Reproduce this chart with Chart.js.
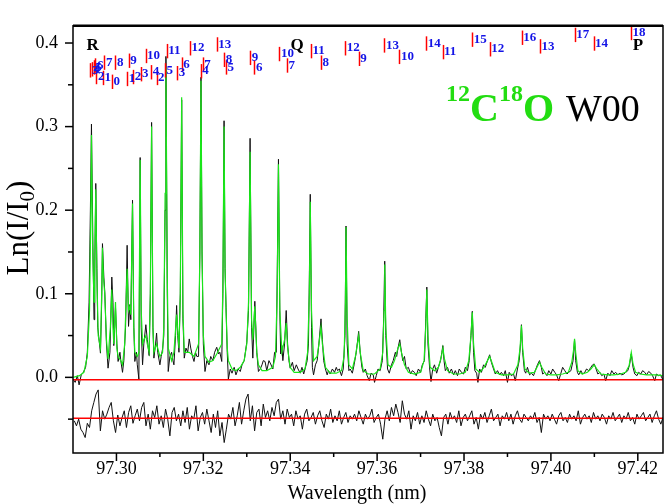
<!DOCTYPE html>
<html>
<head>
<meta charset="utf-8">
<script src="https://cdn.jsdelivr.net/npm/chart.js@4.4.1/dist/chart.umd.min.js"></script>
<style>
  html, body { margin: 0; padding: 0; background: #fff; }
</style>
</head>
<body>
<canvas id="chart" width="665" height="504"></canvas>
<script>
// axis ranges and ticks
const xMin = 97.29, xMax = 97.4258;
const yMin = -0.0905, yMax = 0.4206;
const xTicks = [97.30, 97.32, 97.34, 97.36, 97.38, 97.40, 97.42];
const yTicks = [0.0, 0.1, 0.2, 0.3, 0.4];

// reference levels (zero line and offset residual)
const zeroLevel = -0.003;
const residualLevel = -0.049;

// measured spectrum [wavelength nm, Ln(I/I0)]
const observed = [
  [97.2900, -0.002], [97.2905, -0.006], [97.2910, 0.002], [97.2914, -0.009], [97.2919, 0.003], [97.2924, 0.006],
  [97.2929, 0.012], [97.2933, 0.030], [97.2937, 0.09], [97.2940, 0.20], [97.29425, 0.303], [97.2946, 0.15],
  [97.29484, 0.069], [97.2950, 0.12], [97.29524, 0.232], [97.2955, 0.13], [97.2957, 0.06], [97.29632, 0.029],
  [97.2966, 0.09], [97.29678, 0.160], [97.2971, 0.12], [97.29731, 0.103], [97.2977, 0.04], [97.29807, 0.011],
  [97.2985, 0.03], [97.2987, 0.07], [97.29893, 0.12], [97.2992, 0.09], [97.29939, 0.038], [97.29978, 0.084],
  [97.3001, 0.04], [97.30038, 0.019], [97.3008, 0.03], [97.3010, 0.02], [97.30140, 0.006], [97.3017, 0.02],
  [97.3021, 0.06], [97.30246, 0.158], [97.30278, 0.061], [97.30308, 0.087], [97.30331, 0.069], [97.30370, 0.212],
  [97.3040, 0.06], [97.30423, 0.019], [97.3046, 0.03], [97.3048, 0.015], [97.30516, -0.002], [97.30546, 0.263],
  [97.3057, 0.06], [97.30601, 0.015], [97.3063, 0.04], [97.30677, 0.063], [97.3071, 0.045], [97.30753, 0.026],
  [97.3078, 0.10], [97.30809, 0.305], [97.3084, 0.06], [97.30862, 0.023], [97.3090, 0.04], [97.30924, 0.053],
  [97.3095, 0.03], [97.31000, 0.015], [97.3103, 0.025], [97.31062, 0.034], [97.3109, 0.05], [97.3112, 0.20],
  [97.31139, 0.384], [97.3117, 0.10], [97.31192, 0.007], [97.3123, 0.025], [97.3127, 0.03], [97.3130, 0.02],
  [97.31323, 0.015], [97.3136, 0.05], [97.31385, 0.086], [97.3141, 0.05], [97.31439, 0.030], [97.3147, 0.10],
  [97.31501, 0.332], [97.3153, 0.07], [97.31561, 0.023], [97.3160, 0.035], [97.3164, 0.03], [97.31676, 0.046],
  [97.3171, 0.035], [97.3175, 0.025], [97.31785, 0.019], [97.3182, 0.03], [97.3185, 0.025], [97.3189, 0.025],
  [97.3192, 0.15], [97.31946, 0.359], [97.3197, 0.15], [97.3200, 0.04], [97.32038, 0.007], [97.3208, 0.02],
  [97.3213, 0.015], [97.3217, 0.025], [97.3222, 0.02], [97.3226, 0.03], [97.32308, 0.036], [97.3235, 0.028],
  [97.3238, 0.03], [97.32424, 0.019], [97.3245, 0.10], [97.32477, 0.307], [97.3250, 0.13], [97.32523, 0.084],
  [97.3255, 0.03], [97.32576, -0.002], [97.3262, 0.010], [97.3266, 0.005], [97.3271, 0.012], [97.3275, 0.003],
  [97.3280, 0.010], [97.3285, 0.007], [97.3289, 0.015], [97.3294, 0.020], [97.33000, 0.042], [97.3304, 0.08],
  [97.33076, 0.286], [97.3311, 0.06], [97.33139, 0.023], [97.33185, 0.091], [97.3323, 0.03], [97.33268, 0.007],
  [97.3331, 0.010], [97.3335, 0.015], [97.3338, 0.020], [97.3342, 0.019], [97.3346, 0.008], [97.3351, 0.020],
  [97.3355, 0.016], [97.3360, 0.010], [97.3364, 0.030], [97.3368, 0.030], [97.3370, 0.12], [97.33729, 0.261],
  [97.3376, 0.08], [97.3378, 0.028], [97.33808, 0.038], [97.3383, 0.02], [97.3387, 0.04], [97.33907, 0.080],
  [97.3394, 0.04], [97.3397, 0.02], [97.33999, 0.011], [97.3405, 0.018], [97.3409, 0.008], [97.3414, 0.015],
  [97.3418, 0.010], [97.3423, 0.005], [97.3427, 0.012], [97.3431, 0.004], [97.3434, 0.010], [97.3439, 0.020],
  [97.3442, 0.040], [97.3444, 0.12], [97.34461, 0.219], [97.3449, 0.06], [97.3451, 0.012], [97.34537, 0.003],
  [97.3458, 0.015], [97.3462, 0.020], [97.3466, 0.040], [97.34708, 0.070], [97.3474, 0.045], [97.3477, 0.020],
  [97.3481, 0.010], [97.3485, 0.003], [97.3488, 0.008], [97.3492, 0.004], [97.3497, 0.010], [97.3502, 0.006],
  [97.3506, 0.012], [97.3509, 0.008], [97.3513, 0.010], [97.3518, 0.002], [97.3522, 0.010], [97.3526, 0.05],
  [97.35284, 0.181], [97.3531, 0.04], [97.3535, 0.008], [97.3538, 0.010], [97.3543, 0.005], [97.3547, 0.015],
  [97.3552, 0.030], [97.35575, 0.055], [97.3561, 0.030], [97.3565, 0.012], [97.3568, 0.006], [97.3573, 0.010],
  [97.3577, 0.002], [97.3582, -0.004], [97.3586, 0.005], [97.3591, 0.003], [97.3594, -0.006], [97.3598, 0.002],
  [97.3602, 0.010], [97.3607, 0.008], [97.3612, 0.020], [97.3615, 0.07], [97.36175, 0.139], [97.3620, 0.05],
  [97.3624, 0.010], [97.3628, 0.005], [97.3633, 0.015], [97.3637, 0.020], [97.3642, 0.030], [97.3645, 0.025],
  [97.3648, 0.035], [97.36521, 0.045], [97.3656, 0.030], [97.3659, 0.020], [97.3663, 0.025], [97.3667, 0.010],
  [97.3672, 0.012], [97.3677, 0.004], [97.3681, 0.008], [97.3686, 0.006], [97.3690, 0.002], [97.3695, 0.010],
  [97.3700, 0.006], [97.3704, 0.015], [97.3709, 0.020], [97.3712, 0.07], [97.37144, 0.108], [97.3717, 0.04],
  [97.3721, 0.010], [97.3724, -0.005], [97.3728, 0.010], [97.3732, 0.015], [97.3737, 0.005], [97.3741, 0.012],
  [97.3746, 0.020], [97.3749, 0.030], [97.37513, 0.038], [97.3754, 0.020], [97.3757, 0.008], [97.3762, 0.012],
  [97.3766, 0.005], [97.3771, 0.010], [97.3776, 0.003], [97.3780, 0.008], [97.3785, 0.002], [97.3789, 0.010],
  [97.3794, 0.006], [97.3799, 0.004], [97.3803, 0.012], [97.3808, 0.008], [97.3812, 0.020], [97.3816, 0.050],
  [97.38191, 0.079], [97.3822, 0.030], [97.3825, 0.008], [97.3829, 0.005], [97.3832, -0.006], [97.3836, 0.010],
  [97.3840, 0.006], [97.3845, 0.015], [97.3849, 0.012], [97.3854, 0.020], [97.38590, 0.027], [97.3863, 0.018],
  [97.3868, 0.010], [97.3872, 0.004], [97.3877, 0.008], [97.3882, 0.003], [97.3886, 0.006], [97.3891, 0.002],
  [97.3895, 0.008], [97.3900, -0.006], [97.3904, 0.006], [97.3909, 0.002], [97.3914, 0.004], [97.3918, -0.004],
  [97.3923, 0.010], [97.3927, 0.020], [97.3930, 0.040], [97.39322, 0.063], [97.3935, 0.030], [97.3939, 0.008],
  [97.3942, 0.005], [97.3946, 0.012], [97.3951, 0.003], [97.3955, 0.005], [97.3960, 0.002], [97.3964, 0.008],
  [97.3969, 0.015], [97.39737, 0.020], [97.3978, 0.012], [97.3981, 0.004], [97.3986, 0.006], [97.3991, 0.002],
  [97.3995, 0.008], [97.4000, 0.004], [97.4004, 0.010], [97.4009, 0.006], [97.4013, 0.003], [97.4018, -0.004],
  [97.4023, 0.005], [97.4027, 0.012], [97.4032, 0.008], [97.4037, 0.004], [97.4041, 0.006], [97.4046, 0.008],
  [97.4051, 0.020], [97.40544, 0.045], [97.4057, 0.020], [97.4061, 0.006], [97.4064, 0.003], [97.4069, 0.008],
  [97.4073, 0.004], [97.4078, 0.006], [97.4082, 0.010], [97.4087, 0.008], [97.4092, 0.012], [97.4096, 0.015],
  [97.40996, 0.016], [97.4104, 0.010], [97.4108, 0.004], [97.4113, 0.006], [97.4117, 0.002], [97.4122, 0.004],
  [97.4126, -0.004], [97.4131, 0.005], [97.4136, 0.002], [97.4140, 0.008], [97.4145, 0.004], [97.4149, 0.006],
  [97.4154, 0.003], [97.4159, 0.005], [97.4163, 0.003], [97.4168, 0.004], [97.4172, 0.006], [97.4177, 0.008],
  [97.4181, 0.015], [97.41850, 0.028], [97.4189, 0.012], [97.4193, 0.004], [97.4198, 0.002], [97.4202, 0.006],
  [97.4207, 0.004], [97.4211, 0.008], [97.4216, 0.006], [97.4220, 0.003], [97.4225, 0.007], [97.4230, 0.005],
  [97.4234, 0.002], [97.4239, -0.004], [97.4243, 0.004], [97.4248, 0.002], [97.4252, 0.003], [97.4257, -0.002]
];

// fitted model spectrum
const fitted = [
  [97.2900, 0.000], [97.2915, 0.002], [97.2925, 0.006], [97.2933, 0.025], [97.2938, 0.08], [97.2941, 0.20],
  [97.29425, 0.290], [97.2945, 0.16], [97.29484, 0.090], [97.2950, 0.14], [97.29524, 0.225], [97.2955, 0.12],
  [97.2958, 0.05], [97.29632, 0.035], [97.2966, 0.10], [97.29678, 0.155], [97.2970, 0.12], [97.29731, 0.100],
  [97.2977, 0.045], [97.29807, 0.022], [97.2986, 0.06], [97.29893, 0.105], [97.2992, 0.06], [97.29939, 0.040],
  [97.29978, 0.090], [97.3001, 0.035], [97.30038, 0.025], [97.3010, 0.020], [97.30140, 0.015], [97.3019, 0.040],
  [97.30246, 0.130], [97.30278, 0.080], [97.30308, 0.085], [97.30331, 0.075], [97.30370, 0.208], [97.3040, 0.06],
  [97.30423, 0.030], [97.3048, 0.025], [97.30516, 0.030], [97.30546, 0.260], [97.3057, 0.08], [97.30601, 0.040],
  [97.3063, 0.045], [97.30677, 0.050], [97.3071, 0.040], [97.30753, 0.030], [97.3078, 0.10], [97.30809, 0.300],
  [97.3084, 0.06], [97.30862, 0.030], [97.30924, 0.040], [97.31000, 0.025], [97.31062, 0.030], [97.3109, 0.06],
  [97.3112, 0.22], [97.31139, 0.370], [97.3117, 0.12], [97.31192, 0.035], [97.3127, 0.020], [97.31323, 0.030],
  [97.31385, 0.075], [97.31439, 0.035], [97.3147, 0.10], [97.31501, 0.335], [97.3153, 0.08], [97.31561, 0.030],
  [97.31676, 0.030], [97.31785, 0.025], [97.3189, 0.040], [97.3192, 0.15], [97.31946, 0.355], [97.3197, 0.15],
  [97.3200, 0.05], [97.32038, 0.025], [97.3213, 0.018], [97.3222, 0.020], [97.32308, 0.028], [97.32424, 0.040],
  [97.3245, 0.11], [97.32477, 0.300], [97.3250, 0.13], [97.32523, 0.080], [97.3255, 0.035], [97.32576, 0.020],
  [97.3266, 0.010], [97.3275, 0.008], [97.3285, 0.012], [97.3294, 0.020], [97.33000, 0.040], [97.3304, 0.09],
  [97.33076, 0.270], [97.3311, 0.07], [97.33139, 0.045], [97.33185, 0.085], [97.3323, 0.030], [97.33268, 0.015],
  [97.3335, 0.008], [97.3346, 0.008], [97.3360, 0.012], [97.3366, 0.025], [97.3370, 0.10], [97.33729, 0.255],
  [97.3376, 0.08], [97.33808, 0.030], [97.3387, 0.045], [97.33907, 0.065], [97.3394, 0.035], [97.33999, 0.012],
  [97.3409, 0.006], [97.3423, 0.006], [97.3434, 0.010], [97.3440, 0.03], [97.3444, 0.10], [97.34461, 0.210],
  [97.3449, 0.08], [97.34537, 0.020], [97.3462, 0.025], [97.3466, 0.040], [97.34708, 0.060], [97.3474, 0.040],
  [97.3481, 0.012], [97.3492, 0.005], [97.3506, 0.005], [97.3518, 0.008], [97.3524, 0.025], [97.3527, 0.09],
  [97.35284, 0.180], [97.3531, 0.07], [97.3535, 0.015], [97.3543, 0.010], [97.3550, 0.025], [97.35575, 0.050],
  [97.3561, 0.030], [97.3568, 0.008], [97.3580, 0.004], [97.3594, 0.004], [97.3607, 0.010], [97.3613, 0.030],
  [97.3616, 0.08], [97.36175, 0.135], [97.3620, 0.06], [97.3625, 0.015], [97.3633, 0.012], [97.3640, 0.020],
  [97.3648, 0.035], [97.36521, 0.040], [97.3656, 0.030], [97.3663, 0.015], [97.3672, 0.006], [97.3686, 0.004],
  [97.3700, 0.006], [97.3708, 0.020], [97.3712, 0.06], [97.37144, 0.105], [97.3717, 0.05], [97.3722, 0.012],
  [97.3732, 0.008], [97.3741, 0.012], [97.3748, 0.025], [97.37513, 0.035], [97.3755, 0.022], [97.3762, 0.008],
  [97.3776, 0.004], [97.3790, 0.004], [97.3803, 0.006], [97.3811, 0.020], [97.3816, 0.05], [97.38191, 0.078],
  [97.3822, 0.040], [97.3827, 0.010], [97.3836, 0.006], [97.3846, 0.012], [97.3854, 0.020], [97.38590, 0.025],
  [97.3864, 0.018], [97.3872, 0.006], [97.3886, 0.003], [97.3900, 0.003], [97.3914, 0.004], [97.3924, 0.015],
  [97.3929, 0.035], [97.39322, 0.062], [97.3935, 0.035], [97.3940, 0.010], [97.3950, 0.005], [97.3962, 0.006],
  [97.3968, 0.012], [97.39737, 0.018], [97.3979, 0.012], [97.3988, 0.004], [97.4000, 0.003], [97.4013, 0.003],
  [97.4027, 0.004], [97.4040, 0.006], [97.4048, 0.018], [97.4052, 0.032], [97.40544, 0.046], [97.4057, 0.030],
  [97.4062, 0.008], [97.4072, 0.004], [97.4084, 0.006], [97.4092, 0.010], [97.40996, 0.015], [97.4106, 0.010],
  [97.4115, 0.004], [97.4130, 0.003], [97.4145, 0.003], [97.4160, 0.004], [97.4172, 0.006], [97.4180, 0.014],
  [97.41850, 0.030], [97.4189, 0.016], [97.4195, 0.006], [97.4205, 0.004], [97.4220, 0.003], [97.4240, 0.003],
  [97.4257, 0.002]
];

// residual (observed - fit), shown offset below; sampled every 0.0005 nm
const residualStart = 97.2903;
const residualStep = 0.0005;
const residual = [
  -0.052, -0.058, -0.050, -0.062, -0.066, -0.072, -0.055, -0.060, -0.040, -0.030,
  -0.020, -0.015, -0.064, -0.040, -0.050, -0.044, -0.036, -0.030, -0.052, -0.066,
  -0.045, -0.058, -0.048, -0.040, -0.060, -0.042, -0.034, -0.055, -0.046, -0.038,
  -0.052, -0.036, -0.030, -0.058, -0.044, -0.062, -0.040, -0.048, -0.034, -0.056,
  -0.046, -0.060, -0.038, -0.050, -0.070, -0.042, -0.036, -0.052, -0.044, -0.058,
  -0.040, -0.054, -0.036, -0.062, -0.046, -0.050, -0.034, -0.064, -0.048, -0.042,
  -0.056, -0.038, -0.052, -0.066, -0.044, -0.060, -0.040, -0.070, -0.054, -0.078,
  -0.062, -0.044, -0.050, -0.036, -0.058, -0.046, -0.030, -0.056, -0.040, -0.026,
  -0.020, -0.052, -0.034, -0.064, -0.042, -0.038, -0.058, -0.032, -0.048, -0.040,
  -0.052, -0.036, -0.046, -0.030, -0.026, -0.050, -0.040, -0.056, -0.038, -0.048,
  -0.044, -0.058, -0.040, -0.050, -0.046, -0.062, -0.044, -0.038, -0.052, -0.048,
  -0.042, -0.056, -0.046, -0.040, -0.052, -0.060, -0.044, -0.050, -0.038, -0.054,
  -0.046, -0.052, -0.040, -0.056, -0.048, -0.042, -0.054, -0.046, -0.050, -0.044,
  -0.052, -0.040, -0.048, -0.056, -0.044, -0.050, -0.046, -0.038, -0.054, -0.048,
  -0.044, -0.056, -0.074, -0.050, -0.040, -0.052, -0.036, -0.046, -0.032, -0.042,
  -0.054, -0.028, -0.044, -0.050, -0.040, -0.062, -0.046, -0.052, -0.042, -0.056,
  -0.046, -0.054, -0.040, -0.050, -0.058, -0.044, -0.052, -0.048, -0.060, -0.070,
  -0.048, -0.044, -0.056, -0.042, -0.050, -0.046, -0.054, -0.040, -0.058, -0.048,
  -0.044, -0.052, -0.046, -0.040, -0.056, -0.048, -0.062, -0.044, -0.050, -0.042,
  -0.054, -0.046, -0.038, -0.052, -0.048, -0.044, -0.058, -0.046, -0.050, -0.042,
  -0.052, -0.044, -0.056, -0.046, -0.040, -0.050, -0.054, -0.044, -0.048, -0.052,
  -0.046, -0.050, -0.042, -0.054, -0.048, -0.066, -0.044, -0.050, -0.046, -0.052,
  -0.044, -0.050, -0.056, -0.046, -0.042, -0.052, -0.048, -0.054, -0.044, -0.050,
  -0.046, -0.052, -0.040, -0.056, -0.048, -0.044, -0.050, -0.046, -0.054, -0.042,
  -0.050, -0.046, -0.052, -0.044, -0.048, -0.056, -0.046, -0.050, -0.042, -0.052,
  -0.048, -0.044, -0.054, -0.046, -0.050, -0.042, -0.052, -0.048, -0.056, -0.044,
  -0.050, -0.046, -0.042, -0.052, -0.048, -0.044, -0.054, -0.046, -0.040, -0.050, -0.056, -0.048
];

// rotational line assignments (position, top of marker, J label)
const lineWl = [
  97.29401, 97.29438, 97.29478, 97.29517, 97.29724, 97.29978, 97.30285, 97.30670, 97.31155, 97.31692, 97.32308,
  97.29540, 97.29692, 97.29900, 97.30246, 97.30384, 97.30555, 97.30799, 97.30924, 97.31116, 97.31399, 97.31501,
  97.31939, 97.31985, 97.32484, 97.32523, 97.33077, 97.33176, 97.33752, 97.33923, 97.34477, 97.34708, 97.35268,
  97.35575, 97.36168, 97.36514, 97.37130, 97.37506, 97.38191, 97.38590, 97.39328, 97.39751, 97.40551, 97.40983,
  97.41843
];
const lineTop = [
  0.3759, 0.3771, 0.3794, 0.3817, 0.3851, 0.3851, 0.3874, 0.3931, 0.3989, 0.4023, 0.4069,
  0.3679, 0.3668, 0.3622, 0.3656, 0.3679, 0.3713, 0.3736, 0.3668, 0.3759, 0.3725, 0.3828,
  0.3748, 0.3828, 0.3885, 0.3794, 0.3908, 0.3794, 0.3954, 0.3817, 0.3989, 0.3851, 0.4023,
  0.3897, 0.4057, 0.3920, 0.4080, 0.3977, 0.4126, 0.4011, 0.4149, 0.4046, 0.4183, 0.4080,
  0.4206
];
const lineLabel = [
  '3', '4', '5', '6', '7', '8', '9', '10', '11', '12', '13',
  '2', '1', '0', '1', '2', '3', '4', '2', '5', '3', '6',
  '4', '7', '8', '5', '9', '6', '10', '7', '11', '8', '12',
  '9', '13', '10', '14', '11', '15', '12', '16', '13', '17', '14',
  '18'
];
const branchLabel = ['R', 'Q', 'P'];
const branchWl = [97.29454, 97.34161, 97.42005];
const branchLevel = 0.3966;

const markLen = 0.0172;
const serif = '"Liberation Serif", "Times New Roman", serif';

const toXY = arr => arr.map(p => ({ x: p[0], y: p[1] }));
const residualData = residual.map((v, i) => ({ x: residualStart + i * residualStep, y: v }));

const decorPlugin = {
  id: 'decor',
  afterDatasetsDraw(chart) {
    const { ctx, scales: { x, y } } = chart;
    ctx.save();
    // line markers
    ctx.strokeStyle = '#ff0000';
    ctx.lineWidth = 1.5;
    lineWl.forEach((wl, i) => {
      const px = Math.round(x.getPixelForValue(wl)) + 0.5;
      ctx.beginPath();
      ctx.moveTo(px, y.getPixelForValue(lineTop[i]));
      ctx.lineTo(px, y.getPixelForValue(lineTop[i] - markLen));
      ctx.stroke();
    });
    ctx.fillStyle = '#1414e6';
    ctx.font = 'bold 13px ' + serif;
    ctx.textAlign = 'left';
    ctx.textBaseline = 'middle';
    lineWl.forEach((wl, i) => {
      ctx.fillText(lineLabel[i], x.getPixelForValue(wl) + 1.5, y.getPixelForValue(lineTop[i]) + 7);
    });
    // branch letters
    ctx.fillStyle = '#000';
    ctx.font = 'bold 17px ' + serif;
    ctx.textAlign = 'center';
    branchLabel.forEach((b, i) => {
      ctx.fillText(b, x.getPixelForValue(branchWl[i]), y.getPixelForValue(branchLevel));
    });
    ctx.restore();
  },
  afterDraw(chart) {
    const { ctx, chartArea: a, scales: { x, y } } = chart;
    ctx.save();
    ctx.strokeStyle = '#000';
    ctx.lineWidth = 1.5;
    ctx.strokeRect(a.left, a.top, a.right - a.left, a.bottom - a.top);
    ctx.lineWidth = 2.5;
    ctx.beginPath(); ctx.moveTo(a.left, a.top); ctx.lineTo(a.right, a.top); ctx.stroke();

    // tick marks, major and minor
    ctx.lineWidth = 1.5;
    xTicks.forEach(v => {
      const px = x.getPixelForValue(v);
      ctx.beginPath(); ctx.moveTo(px, a.bottom); ctx.lineTo(px, a.bottom + 8); ctx.stroke();
      const m = v + (xTicks[1] - xTicks[0]) / 2;
      if (m < xMax) {
        const pm = x.getPixelForValue(m);
        ctx.beginPath(); ctx.moveTo(pm, a.bottom); ctx.lineTo(pm, a.bottom + 4); ctx.stroke();
      }
    });
    const stepY = yTicks[1] - yTicks[0];
    [yTicks[0] - stepY].concat(yTicks).forEach(v => {
      if (v >= yMin) {
        const py = y.getPixelForValue(v);
        ctx.beginPath(); ctx.moveTo(a.left, py); ctx.lineTo(a.left - 8, py); ctx.stroke();
      }
      const m = v + stepY / 2;
      if (m > yMin && m < yMax) {
        const pm = y.getPixelForValue(m);
        ctx.beginPath(); ctx.moveTo(a.left, pm); ctx.lineTo(a.left - 5, pm); ctx.stroke();
      }
    });

    // axis titles
    ctx.fillStyle = '#000';
    ctx.textBaseline = 'alphabetic';
    ctx.textAlign = 'center';
    ctx.font = '20px ' + serif;
    ctx.fillText('Wavelength (nm)', (a.left + a.right) / 2 - 11, 499);

    ctx.translate(28, 228);
    ctx.rotate(-Math.PI / 2);
    const big = '31px ' + serif, small = '21px ' + serif;
    ctx.font = big;
    const w1 = ctx.measureText('Ln(I/I').width;
    const w3 = ctx.measureText(')').width;
    ctx.font = small;
    const w2 = ctx.measureText('0').width;
    let cx = -(w1 + w2 + w3) / 2;
    ctx.textAlign = 'left';
    ctx.font = big; ctx.fillText('Ln(I/I', cx, 0); cx += w1;
    ctx.font = small; ctx.fillText('0', cx, 6); cx += w2;
    ctx.font = big; ctx.fillText(')', cx, 0);
    ctx.setTransform(1, 0, 0, 1, 0, 0);

    // molecule / band label
    ctx.textAlign = 'left';
    let tx = a.left + 373;
    const base = 121;
    ctx.fillStyle = '#22dd11';
    const parts = [['12', true], ['C', false], ['18', true], ['O', false]];
    parts.forEach(([t, sup]) => {
      ctx.font = (sup ? 'bold 24px ' : 'bold 40px ') + serif;
      ctx.fillText(t, tx, sup ? base - 20 : base);
      tx += ctx.measureText(t).width;
    });
    ctx.fillStyle = '#000';
    ctx.font = '38px ' + serif;
    ctx.fillText('W00', a.left + 493, base);
    ctx.restore();
  }
};

new Chart(document.getElementById('chart'), {
  type: 'scatter',
  data: {
    datasets: [
      { data: [{ x: xMin, y: zeroLevel }, { x: xMax, y: zeroLevel }], showLine: true, borderColor: '#ff0000', borderWidth: 1.5, pointRadius: 0, order: 0 },
      { data: [{ x: xMin, y: residualLevel }, { x: xMax, y: residualLevel }], showLine: true, borderColor: '#ff0000', borderWidth: 1.5, pointRadius: 0, order: 0 },
      { data: toXY(fitted), showLine: true, borderColor: '#19e619', borderWidth: 1.2, pointRadius: 0, order: 1 },
      { data: toXY(observed), showLine: true, borderColor: '#111', borderWidth: 1, pointRadius: 0, order: 2 },
      { data: residualData, showLine: true, borderColor: '#111', borderWidth: 1, pointRadius: 0, order: 3 }
    ]
  },
  options: {
    responsive: false,
    animation: false,
    devicePixelRatio: 1,
    layout: { padding: { top: 6, right: 2, left: 0, bottom: 0 } },
    plugins: { legend: { display: false }, tooltip: { enabled: false } },
    scales: {
      x: {
        type: 'linear', min: xMin, max: xMax,
        afterBuildTicks: s => { s.ticks = xTicks.map(v => ({ value: v })); },
        afterFit: s => { s.height = 51; },
        grid: { display: false, drawTicks: false },
        border: { display: false },
        ticks: { padding: 5, color: '#000', font: { family: serif, size: 18 }, maxRotation: 0, callback: v => v.toFixed(2) }
      },
      y: {
        type: 'linear', min: yMin, max: yMax,
        afterBuildTicks: s => { s.ticks = yTicks.map(v => ({ value: v })); },
        afterFit: s => { s.width = 73; },
        grid: { display: false, drawTicks: false },
        border: { display: false },
        ticks: { padding: 15, color: '#000', font: { family: serif, size: 18 }, callback: v => v.toFixed(1) }
      }
    }
  },
  plugins: [decorPlugin]
});
</script>
</body>
</html>
